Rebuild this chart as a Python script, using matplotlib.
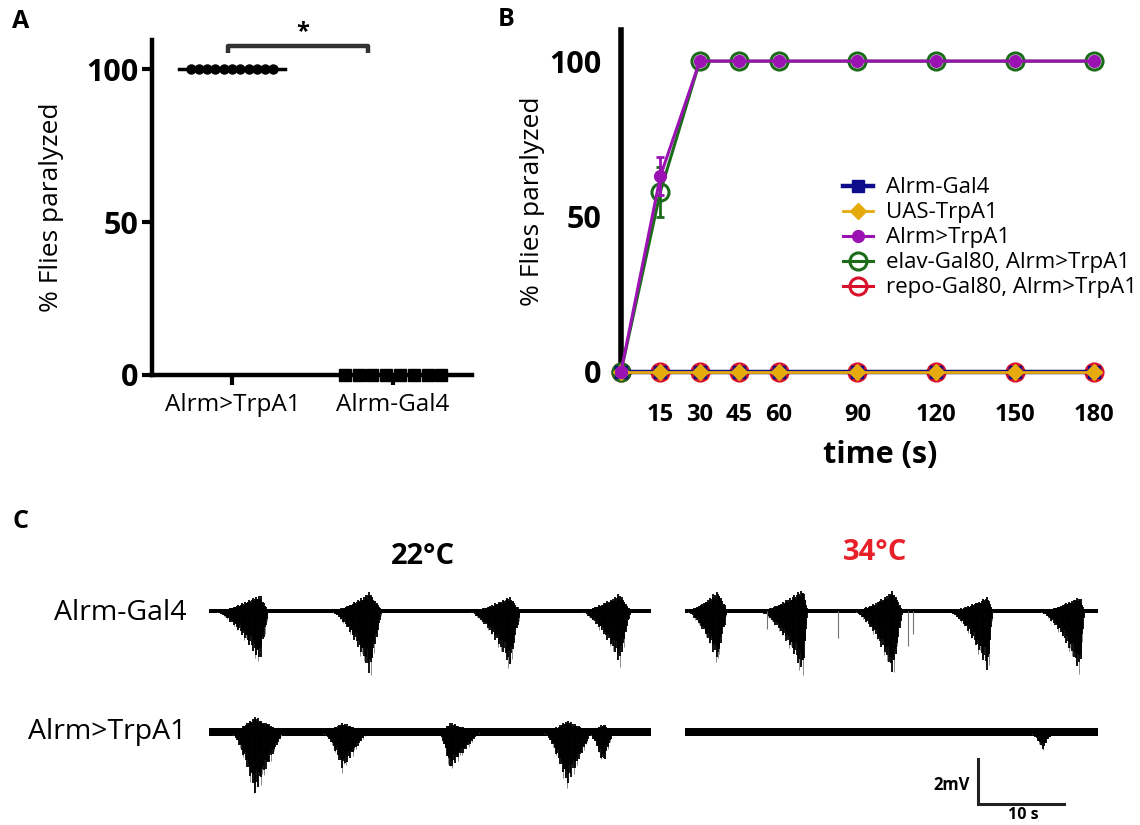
import numpy as np
import matplotlib.pyplot as plt

plt.rcParams['font.family'] = ['Open Sans', 'DejaVu Sans']

# ---- panel A: % flies paralyzed per vial
groups_a = ['Alrm>TrpA1', 'Alrm-Gal4']
alrm_trpa1_a = [100, 100, 100, 100, 100, 100, 100, 100, 100, 100, 100]
alrm_gal4_a = [0, 0, 0, 0, 0, 0, 0, 0]

# ---- panel B: time course
times = [0, 15, 30, 45, 60, 90, 120, 150, 180]
names_b = ['Alrm-Gal4', 'UAS-TrpA1', 'Alrm>TrpA1',
           'elav-Gal80, Alrm>TrpA1', 'repo-Gal80, Alrm>TrpA1']
gal4_b = [0, 0, 0, 0, 0, 0, 0, 0, 0]
uas_b = [0, 0, 0, 0, 0, 0, 0, 0, 0]
alrm_b = [0, 63, 100, 100, 100, 100, 100, 100, 100]
elav_b = [0, 58, 100, 100, 100, 100, 100, 100, 100]
repo_b = [0, 0, 0, 0, 0, 0, 0, 0, 0]
alrm_err = [0, 6, 0, 0, 0, 0, 0, 0, 0]
elav_err = [0, 8, 0, 0, 0, 0, 0, 0, 0]

# ---- panel C: extracellular recordings (s, mV)
# bursts: (start, peak, end, depth below baseline, height above baseline)
trace_len_22 = 51.4
trace_len_34 = 48.0
gal4_22_bursts = [(0.5, 5.9, 6.9, 2.5, 0.8), (14.0, 18.7, 20.1, 3.05, 0.93),
                  (30.0, 35.0, 36.2, 2.7, 0.7), (43.0, 47.8, 49.0, 2.5, 0.85)]
trpa1_22_bursts = [(2.4, 5.3, 8.6, 3.0, 0.75), (13.1, 15.5, 18.4, 1.8, 0.45),
                   (26.6, 28.0, 31.5, 1.8, 0.45), (38.8, 41.6, 44.5, 2.6, 0.55),
                   (44.0, 45.8, 47.0, 1.55, 0.4)]
gal4_34_bursts = [(0.0, 3.8, 4.9, 2.45, 1.0), (8.5, 13.7, 14.3, 3.0, 1.1),
                  (19.5, 24.2, 25.3, 3.0, 1.0), (30.5, 35.2, 35.8, 2.9, 0.7),
                  (41.0, 45.9, 46.5, 2.9, 0.7)]
gal4_34_spikes = [(9.5, 0.8), (17.8, 1.2), (25.9, 1.55), (26.5, 1.0)]
trpa1_34_bursts = [(40.0, 41.6, 42.7, 0.85, 0.15)]
scale_mv = 2
scale_s = 10

# spike-height mix used inside a burst (cycled)
MIX_CORE = [0.72, 0.84, 0.66, 0.9, 0.78, 0.62, 0.82, 0.93, 0.7, 0.8, 0.68, 0.88, 0.75]
MIX_TIP = [1.0, 0.55, 0.85, 0.35, 0.95, 0.7, 0.45, 0.9, 0.6, 0.8, 0.4, 0.75]

fig = plt.figure(figsize=(11.4, 8.25), dpi=100)

# ================= A
axA = fig.add_axes([0.1333, 0.5455, 0.2807, 0.406])
n1 = len(alrm_trpa1_a)
n2 = len(alrm_gal4_a)
axA.plot(0 + np.linspace(-0.26, 0.255, n1), alrm_trpa1_a, 'o', color='black', ms=6.5, clip_on=False, zorder=4)
axA.plot(1 + np.linspace(-0.3, 0.3, n2), alrm_gal4_a, 's', color='black', ms=8.5, clip_on=False, zorder=4)
axA.plot([-0.33, 0.33], [np.median(alrm_trpa1_a)] * 2, color='black', lw=2.5, zorder=3)
axA.plot([0.67, 1.33], [np.median(alrm_gal4_a)] * 2, color='black', lw=2.5, zorder=3)
axA.plot([-0.025, -0.025, 0.845, 0.845], [105.2, 107.6, 107.6, 105.2], color='#333333',
         lw=3.2, clip_on=False, solid_capstyle='butt')
axA.text(0.435, 108.2, '*', ha='center', va='bottom', fontsize=17, fontweight='bold')
axA.set_xlim(-0.5, 1.49)
axA.set_ylim(0, 109.5)
axA.set_xticks([0, 1])
axA.set_xticklabels(groups_a, fontsize=17.5)
axA.set_yticks([0, 50, 100])
axA.set_yticklabels(['0', '50', '100'], fontsize=22, fontweight='bold')
axA.tick_params(axis='y', length=7, width=3, pad=3)
axA.tick_params(axis='x', length=7, width=3, pad=6)
for s in ['top', 'right']:
    axA.spines[s].set_visible(False)
for s in ['left', 'bottom']:
    axA.spines[s].set_linewidth(3.2)
axA.set_ylabel('% Flies paralyzed', fontsize=19)
axA.yaxis.set_label_coords(-0.275, 0.5)

# ================= B
axB = fig.add_axes([0.5447, 0.5491, 0.4149, 0.4145])
hr, = axB.plot(times, repo_b, '-o', color='#d8102c', mfc='none', mew=2.2, ms=12.3, lw=2.2,
               clip_on=False, zorder=2, label=names_b[4])
he, = axB.plot(times, elav_b, '-o', color='#1b6b1b', mfc='none', mew=2.2, ms=12.3, lw=2.2,
               clip_on=False, zorder=3, label=names_b[3])
hg, = axB.plot(times, gal4_b, '-s', color='#0d0d8c', ms=9, lw=3.2,
               clip_on=False, zorder=4, label=names_b[0])
hu, = axB.plot(times, uas_b, '-D', color='#e6aa0c', ms=8.5, lw=2.0,
               clip_on=False, zorder=5, label=names_b[1])
ha, = axB.plot(times, alrm_b, '-o', color='#9b12b2', ms=8.5, lw=2.2,
               clip_on=False, zorder=6, label=names_b[2])
axB.errorbar(times[1], elav_b[1], yerr=elav_err[1], color='#1b6b1b', capsize=3, elinewidth=2,
             capthick=2, fmt='none', zorder=3)
axB.errorbar(times[1], alrm_b[1], yerr=alrm_err[1], color='#9b12b2', capsize=3, elinewidth=2,
             capthick=2, fmt='none', zorder=6)
axB.set_xlim(0, 180)
axB.set_ylim(0, 110)
axB.set_xticks(times[1:])
axB.set_xticklabels([str(t) for t in times[1:]], fontsize=17, fontweight='bold')
axB.set_yticks([0, 50, 100])
axB.set_yticklabels(['0', '50', '100'], fontsize=22, fontweight='bold')
axB.tick_params(axis='x', length=0, pad=22)
axB.tick_params(axis='y', length=0, pad=14)
for s in ['top', 'right', 'bottom']:
    axB.spines[s].set_visible(False)
axB.spines['left'].set_linewidth(4)
axB.spines['left'].set_zorder(1)
axB.set_xlabel('time (s)', fontsize=22, fontweight='bold')
axB.xaxis.set_label_coords(0.548, -0.2)
axB.set_ylabel('% Flies paralyzed', fontsize=19)
axB.yaxis.set_label_coords(-0.16, 0.5)
axB.legend(handles=[hg, hu, ha, he, hr], loc='upper left', bbox_to_anchor=(0.7395, 0.785),
           bbox_transform=fig.transFigure, frameon=False, fontsize=16, borderpad=0,
           borderaxespad=0, handlelength=1.35, handletextpad=0.6, labelspacing=0.18)

# ================= C
axC = fig.add_axes([209 / 1140, 0.0, 891 / 1140, 245 / 825])
axC.set_xlim(0, 891 / 8.6)
axC.set_ylim(-(825 - 611) / 22.5, 31 / 22.5)
axC.axis('off')
x_right = (685 - 209) / 8.6
y_gal4 = 0.0
y_trpa1 = -121 / 22.5


def draw_trace(ax, x0, y0, dur, bursts, band, spikes=()):
    t = np.arange(0, dur, 0.1)
    ax.fill_between([x0, x0 + dur], y0 - band, y0 + band, color='black', lw=0)
    for ts, tp, te, depth, up in bursts:
        tt = t[(t >= ts) & (t <= te)]
        env = np.where(tt < tp, np.clip((tt - ts) / (tp - ts), 0, 1) ** 1.6,
                       np.clip((te - tt) / (te - tp), 0, 1))
        k = np.arange(len(tt))
        tip = np.take(MIX_TIP, k, mode='wrap')
        core = np.take(MIX_CORE, k, mode='wrap')
        ax.vlines(x0 + tt[::2], y0 - depth * env[::2] * tip[::2], y0, color='0.55', lw=0.7)
        ax.vlines(x0 + tt, y0 - depth * env * core, y0 + up * env * core,
                  color='black', lw=1.3)
    for ts, depth in spikes:
        ax.vlines(x0 + ts, y0 - depth, y0, color='0.45', lw=0.8)


draw_trace(axC, 0, y_gal4, trace_len_22, gal4_22_bursts, 0.1)
draw_trace(axC, 0, y_trpa1, trace_len_22, trpa1_22_bursts, 0.18)
draw_trace(axC, x_right, y_gal4, trace_len_34, gal4_34_bursts, 0.1, gal4_34_spikes)
draw_trace(axC, x_right, y_trpa1, trace_len_34, trpa1_34_bursts, 0.18)

# scale bar
sb_x = (978 - 209) / 8.6
sb_y = -(804 - 611) / 22.5
axC.plot([sb_x, sb_x, sb_x + scale_s], [sb_y + scale_mv, sb_y, sb_y], color='#222222', lw=2.2,
         solid_joinstyle='miter')
axC.text(sb_x - 1.0, sb_y + 0.85, f'{scale_mv}mV', ha='right', va='center', fontsize=12,
         fontweight='bold')
axC.text(sb_x + 5.3, sb_y - 0.12, f'{scale_s} s', ha='center', va='top', fontsize=11.5,
         fontweight='bold')

fig.text(423 / 1140, 1 - 557 / 825, '22°C', ha='center', va='center', fontsize=21, fontweight='bold')
fig.text(875 / 1140, 1 - 553 / 825, '34°C', ha='center', va='center', fontsize=21,
         fontweight='bold', color='#e8202a')
fig.text(186 / 1140, 1 - 613 / 825, 'Alrm-Gal4', ha='right', va='center', fontsize=20.5)
fig.text(186 / 1140, 1 - 732 / 825, 'Alrm>TrpA1', ha='right', va='center', fontsize=20.5)

# panel letters
fig.text(12 / 1140, 1 - 22 / 825, 'A', ha='left', va='center', fontsize=18, fontweight='bold')
fig.text(498 / 1140, 1 - 20 / 825, 'B', ha='left', va='center', fontsize=18, fontweight='bold')
fig.text(12 / 1140, 1 - 522 / 825, 'C', ha='left', va='center', fontsize=18, fontweight='bold')

fig.savefig('out.png', dpi=100)
